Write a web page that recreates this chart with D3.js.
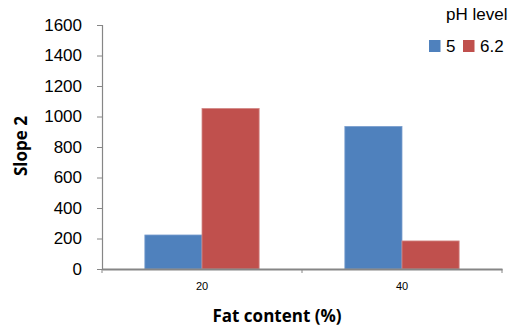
<!DOCTYPE html>
<html>
<head>
<meta charset="utf-8">
<script src="https://cdn.jsdelivr.net/npm/d3@7"></script>
<style>
  html, body { margin: 0; padding: 0; background: #fff; }
  svg { display: block; font-family: "Liberation Sans", Arial, sans-serif; }
</style>
</head>
<body>
<svg id="chart" width="516" height="328"></svg>
<script>
// Slope 2 by fat content, grouped by pH level
const categories = ["20", "40"];
const seriesNames = ["5", "6.2"];
const ph5 = [223, 935];
const ph62 = [1053, 184];
const yTicks = [0, 200, 400, 600, 800, 1000, 1200, 1400, 1600];
const colors = ["#4F81BD", "#C0504D"];

const series = [ph5, ph62];
const svg = d3.select("#chart");
const margin = { left: 102, right: 14, top: 25, bottom: 59 };
const W = 516, H = 328;

const x = d3.scaleBand().domain(categories)
  .range([margin.left, W - margin.right]).paddingInner(0).paddingOuter(0);
const inner = d3.scaleBand().domain(seriesNames)
  .range([0, x.bandwidth()]).paddingInner(0).paddingOuter(0.75);
const y = d3.scaleLinear().domain([0, 1600]).range([H - margin.bottom, margin.top]);

const axisColor = "#868686";

// bars
const rows = categories.map((c, i) => ({ c, vals: seriesNames.map((s, j) => ({ s, j, v: series[j][i] })) }));
const g = svg.append("g");
g.selectAll("g.cat").data(rows).join("g")
  .attr("transform", d => `translate(${x(d.c)},0)`)
  .selectAll("rect").data(d => d.vals).join("rect")
  .attr("x", d => inner(d.s))
  .attr("width", inner.bandwidth())
  .attr("y", d => y(d.v))
  .attr("height", d => y(0) - y(d.v))
  .attr("fill", d => colors[d.j])
  .attr("stroke", d => d.j === 0 ? "#7a9fce" : "#d38a88")
  .attr("stroke-width", 0.8);

// y axis
const yAxis = svg.append("g")
  .attr("transform", `translate(${margin.left},0)`)
  .call(d3.axisLeft(y).tickValues(yTicks).tickSize(5).tickPadding(15).tickFormat(d3.format("d")));
yAxis.select(".domain").attr("stroke", axisColor).attr("stroke-width", 1.2);
yAxis.selectAll(".tick line").attr("stroke", axisColor);
yAxis.selectAll(".tick text").attr("font-size", 17).attr("fill", "#000")
  .attr("font-family", "Liberation Sans, Arial, sans-serif");

// x axis
const xAxis = svg.append("g")
  .attr("transform", `translate(0,${y(0)})`)
  .call(d3.axisBottom(x).tickSize(0).tickPadding(13));
xAxis.select(".domain").attr("stroke", axisColor).attr("stroke-width", 2);
xAxis.selectAll(".tick text").attr("font-size", 11).attr("fill", "#000")
  .attr("font-family", "Liberation Sans, Arial, sans-serif");
// category boundary ticks
const bounds = [x.range()[0], ...categories.slice(1).map(c => x(c)), x.range()[1]];
xAxis.selectAll("line.bound").data(bounds).join("line")
  .attr("class", "bound")
  .attr("x1", d => d).attr("x2", d => d)
  .attr("y1", 0).attr("y2", 4)
  .attr("stroke", axisColor);

// axis titles
svg.append("text")
  .attr("x", 277).attr("y", 322)
  .attr("text-anchor", "middle")
  .attr("font-family", "Open Sans, Liberation Sans, sans-serif")
  .attr("font-size", 17).attr("font-weight", "bold")
  .text("Fat content (%)");
svg.append("text")
  .attr("transform", "translate(27,146) rotate(-90)")
  .attr("text-anchor", "middle")
  .attr("font-family", "Open Sans, Liberation Sans, sans-serif")
  .attr("font-size", 17).attr("font-weight", "bold")
  .text("Slope 2");

// legend
svg.append("text")
  .attr("x", 446).attr("y", 20)
  .attr("font-size", 17)
  .text("pH level");
const legendX = [429, 463];
seriesNames.forEach((s, j) => {
  svg.append("rect")
    .attr("x", legendX[j]).attr("y", 40)
    .attr("width", 11.5).attr("height", 12)
    .attr("fill", colors[j]);
  svg.append("text")
    .attr("x", legendX[j] + 17).attr("y", 52)
    .attr("font-size", 17)
    .text(s);
});
</script>
</body>
</html>
